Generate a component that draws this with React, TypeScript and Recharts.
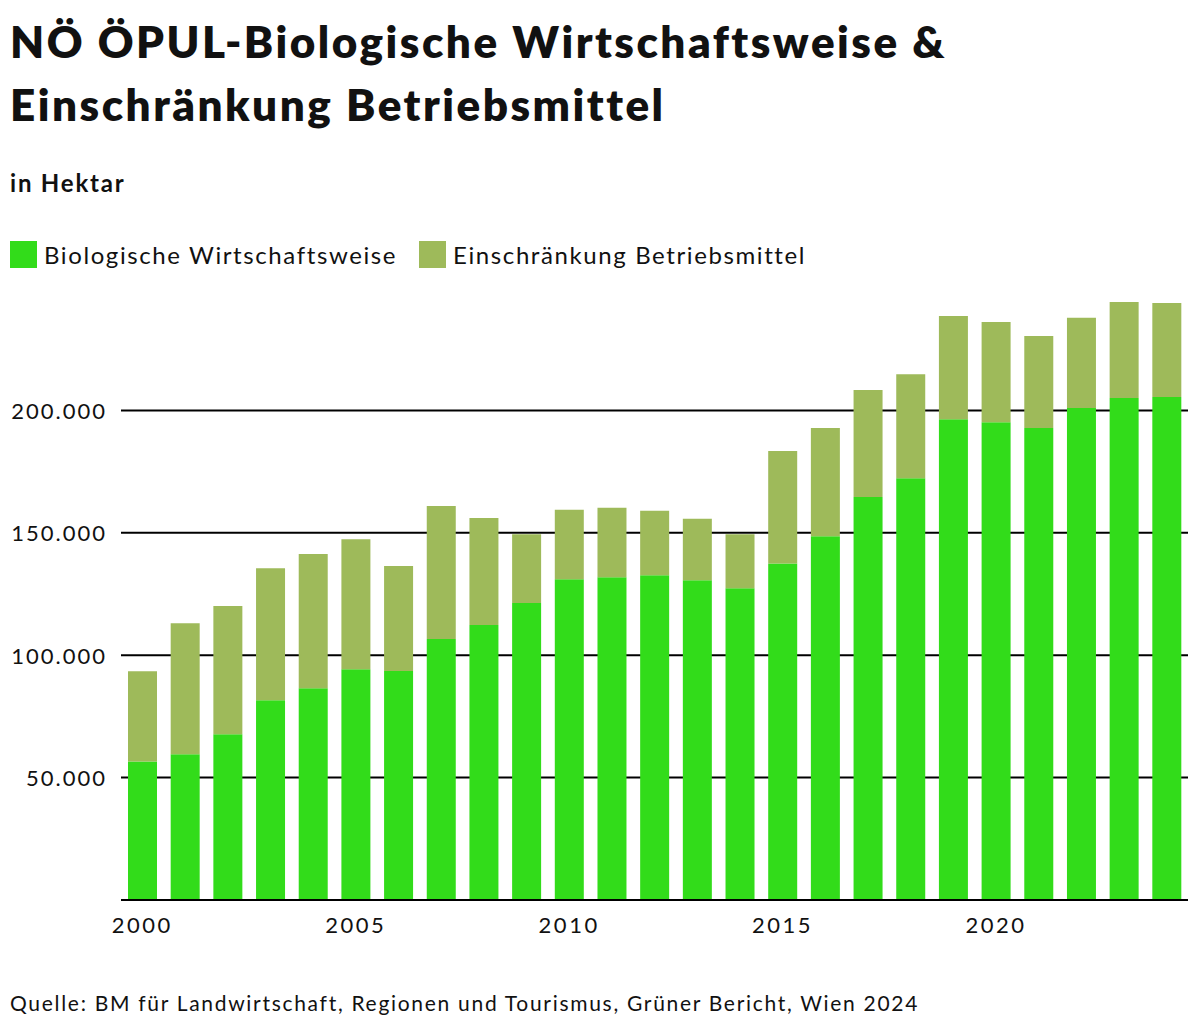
import React from 'react';
import {
  BarChart,
  Bar,
  XAxis,
  YAxis,
  CartesianGrid,
} from 'recharts';

const years = [
  '2000', '2001', '2002', '2003', '2004', '2005', '2006', '2007', '2008', '2009',
  '2010', '2011', '2012', '2013', '2014', '2015', '2016', '2017', '2018', '2019',
  '2020', '2021', '2022', '2023', '2024',
];

// Hektar, biologisch bewirtschaftet
const bioValues = [
  56600, 59500, 67700, 81600, 86500, 94300, 93500, 106600, 112300, 121300,
  131000, 131800, 132700, 130600, 127300, 137500, 148600, 164600, 172300, 196400,
  195200, 192800, 201000, 205100, 205500,
];

// Hektar, Einschränkung Betriebsmittel (auf Bio gestapelt)
const einschraenkungValues = [
  36800, 53600, 52400, 53900, 54800, 53100, 42900, 54300, 43700, 28100,
  28400, 28400, 26300, 25100, 22100, 45900, 44200, 43700, 42500, 42200,
  40900, 37600, 36800, 39200, 38400,
];

const yTicks = [50000, 100000, 150000, 200000];

const seriesInfo = [
  { key: 'bio', name: 'Biologische Wirtschaftsweise', color: '#32DC1A' },
  { key: 'einschraenkung', name: 'Einschränkung Betriebsmittel', color: '#9EBA5A' },
];

const data = years.map((year, i) => ({
  year,
  bio: bioValues[i],
  einschraenkung: einschraenkungValues[i],
}));

const FONT = 'Lato, "DejaVu Sans", sans-serif';

const formatNumber = (v: number) =>
  String(v).replace(/\B(?=(\d{3})+(?!\d))/g, '.');

const YTick = ({ x, y, payload }: any) => (
  <text
    x={x}
    y={y}
    textAnchor="end"
    dominantBaseline="central"
    fontSize={22}
    fontFamily={FONT}
    letterSpacing={2}
    fill="#111"
  >
    {formatNumber(payload.value)}
  </text>
);

const XTick = ({ x, y, payload }: any) => (
  <text
    x={x}
    y={y}
    textAnchor="middle"
    dominantBaseline="central"
    fontSize={22}
    fontFamily={FONT}
    letterSpacing={2.5}
    fill="#111"
  >
    {payload.value}
  </text>
);

const LegendBlock = () => (
  <div
    style={{
      position: 'absolute',
      left: 10,
      top: 240,
      display: 'flex',
      alignItems: 'center',
    }}
  >
    {seriesInfo.map((s) => (
      <div
        key={s.key}
        style={{ display: 'flex', alignItems: 'center', marginRight: 22 }}
      >
        <span
          style={{
            display: 'inline-block',
            width: 27,
            height: 27,
            background: s.color,
            marginRight: 7,
          }}
        />
        <span style={{ fontSize: 24, letterSpacing: 1.6 }}>{s.name}</span>
      </div>
    ))}
  </div>
);

const App = () => {
  return (
    <div
      style={{
        position: 'absolute',
        left: 0,
        top: 0,
        width: 1200,
        height: 1032,
        background: '#fff',
        fontFamily: FONT,
        color: '#111',
      }}
    >
      <div
        style={{
          position: 'absolute',
          left: 10,
          top: 10,
          fontSize: 44,
          fontWeight: 800,
          lineHeight: '63px',
          letterSpacing: 2.5,
          whiteSpace: 'nowrap',
        }}
      >
        NÖ ÖPUL-Biologische Wirtschaftsweise &amp;
        <br />
        Einschränkung Betriebsmittel
      </div>
      <div
        style={{
          position: 'absolute',
          left: 10,
          top: 168,
          fontSize: 24,
          fontWeight: 700,
          letterSpacing: 1.8,
        }}
      >
        in Hektar
      </div>

      <LegendBlock />

      <div style={{ position: 'absolute', left: 0, top: 0 }}>
        <BarChart
          width={1200}
          height={960}
          data={data}
          margin={{ top: 288, right: 12, left: 10, bottom: 20 }}
          barSize={29}
        >
          <CartesianGrid
            horizontal
            vertical={false}
            horizontalValues={yTicks}
            stroke="#000"
            strokeWidth={2}
          />
          <XAxis
            dataKey="year"
            interval={4}
            tickLine={false}
            tickSize={0}
            tick={<XTick />}
            tickMargin={24}
            height={40}
            axisLine={{ stroke: '#000', strokeWidth: 2 }}
          />
          <YAxis
            width={111}
            domain={[0, 250000]}
            ticks={yTicks}
            axisLine={false}
            tickLine={false}
            tickSize={0}
            tickMargin={14}
            tick={<YTick />}
          />
          {seriesInfo.map((s) => (
            <Bar
              key={s.key}
              dataKey={s.key}
              name={s.name}
              stackId="flaeche"
              fill={s.color}
              isAnimationActive={false}
            />
          ))}
        </BarChart>
      </div>

      <div
        style={{
          position: 'absolute',
          left: 10,
          top: 990,
          fontSize: 21,
          letterSpacing: 1.7,
          whiteSpace: 'nowrap',
        }}
      >
        Quelle: BM für Landwirtschaft, Regionen und Tourismus, Grüner Bericht, Wien 2024
      </div>
    </div>
  );
};

export default App;
